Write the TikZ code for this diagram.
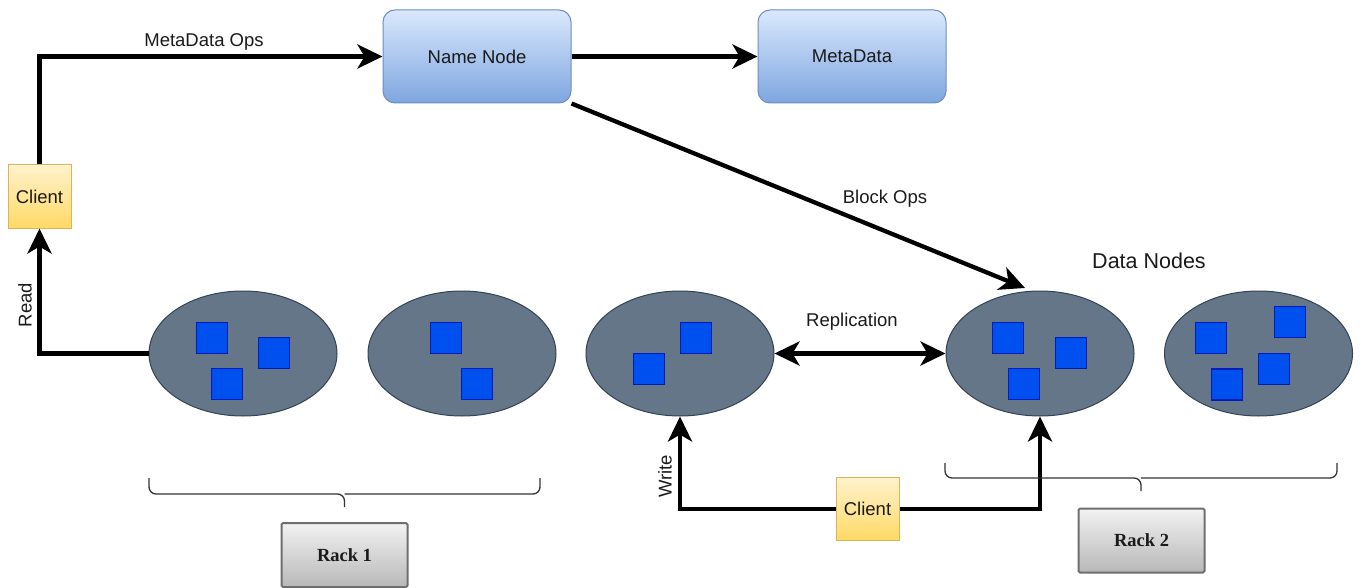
\documentclass[tikz,border=0pt]{standalone}
\usepackage{fontspec}
\setmainfont{Liberation Sans}
\newfontfamily\rackfont{Liberation Serif}
\usetikzlibrary{arrows.meta,shapes.geometric}
\definecolor{nnTop}{HTML}{DAE8FC}
\definecolor{nnBot}{HTML}{7EA6E0}
\definecolor{nnBorder}{HTML}{6C8EBF}
\definecolor{clTop}{HTML}{FFF2CC}
\definecolor{clBot}{HTML}{FFD966}
\definecolor{clBorder}{HTML}{D6B656}
\definecolor{dnFill}{HTML}{647687}
\definecolor{dnBorder}{HTML}{314354}
\definecolor{blkFill}{HTML}{0050EF}
\definecolor{blkBorder}{HTML}{001DBC}
\definecolor{rkTop}{HTML}{F2F2F2}
\definecolor{rkBot}{HTML}{B8B8B8}
\definecolor{rkBorder}{HTML}{6E6E6E}
\definecolor{txt}{HTML}{1A1A1A}
\begin{document}
\begin{tikzpicture}[x=1pt,y=-1pt,
  every node/.style={text=txt},
  nnbox/.style={draw=nnBorder, line width=1pt, rounded corners=12pt, top color=nnTop, bottom color=nnBot, minimum width=188pt, minimum height=93pt, font=\fontsize{18.5}{22}\selectfont},
  clbox/.style={draw=clBorder, line width=1pt, top color=clTop, bottom color=clBot, minimum width=63pt, minimum height=63pt, inner sep=0pt, font=\fontsize{18.5}{22}\selectfont},
  dnode/.style={ellipse, draw=dnBorder, line width=1pt, fill=dnFill, minimum width=188pt, minimum height=125pt, inner sep=0pt},
  blk/.style={draw=blkBorder, line width=1.2pt, fill=blkFill, minimum width=31pt, minimum height=31pt, inner sep=0pt},
  rack/.style={draw=rkBorder, line width=2pt, rounded corners=1.5pt, top color=rkTop, bottom color=rkBot, minimum width=126pt, minimum height=64pt, font=\rackfont\bfseries\fontsize{18.5}{22}\selectfont},
  lbl/.style={font=\fontsize{18.5}{22}\selectfont, inner sep=1pt},
  arr/.style={line width=4.3pt, -{Stealth[length=25pt,width=24pt,inset=7pt]}},
  darr/.style={line width=4.3pt, {Stealth[length=25pt,width=24pt,inset=7pt]}-{Stealth[length=25pt,width=24pt,inset=7pt]}},
  bracepath/.style={draw=black!80, line width=1.3pt, rounded corners=7pt}
]
\useasboundingbox (0,0) rectangle (1362,588);

% top boxes
\node[nnbox] (nn) at (477,56.5) {Name Node};
\node[nnbox] (md) at (852,56.5) {MetaData};

% clients
\node[clbox] (c1) at (39.5,196.5) {Client};
\node[clbox] (c2) at (867.5,509) {Client};

% data nodes
\node[dnode] (e1) at (243,353.5) {};
\node[dnode] (e2) at (462,353.5) {};
\node[dnode] (e3) at (680,353.5) {};
\node[dnode] (e4) at (1040,353.5) {};
\node[dnode] (e5) at (1258.5,353.5) {};

% blocks
\node[blk] (b11) at (212,338) {};
\node[blk] (b12) at (274,353) {};
\node[blk] (b13) at (227,384) {};
\node[blk] (b21) at (446,338) {};
\node[blk] (b22) at (477,384) {};
\node[blk] (b31) at (696,338) {};
\node[blk] (b32) at (649,369) {};
\node[blk] (b41) at (1008,338) {};
\node[blk] (b42) at (1071,353) {};
\node[blk] (b43) at (1024,384) {};
\node[blk] (b51) at (1211,338) {};
\node[blk] (b52) at (1290,322) {};
\node[blk] (b53) at (1274,369) {};
\node[blk] (b54) at (1227,384.5) {};

% connectors
\draw[arr] (c1.north) |- (nn.west);
\draw[arr] (nn.east) -- (md.west);
\coordinate (bo) at (1025,288);
\draw[arr] (nn.south east) -- (bo);
\draw[arr] (e1.west) -| (c1.south);
\draw[darr] (e3.east) -- (e4.west);
\draw[arr] (c2.west) -| (e3.south);
\draw[arr] (c2.east) -| (e4.south);

% labels
\node[lbl] (lmo) at (204,42) {MetaData Ops};
\node[lbl] (lbo) at (885,199) {Block Ops};
\node[lbl] (lrep) at (852,322) {Replication};
\node[lbl, rotate=90] (lread) at (25,305) {Read};
\node[lbl, rotate=90] (lwrite) at (665,476.5) {Write};
\node[font=\fontsize{21.5}{26}\selectfont] (ldn) at (1149,261) {Data Nodes};

% braces
\draw[bracepath] (149,478) -- (149,494) -- (344.5,494) -- (344.5,507);
\draw[bracepath] (540,478) -- (540,494) -- (344.5,494);
\draw[bracepath] (945,463) -- (945,478) -- (1141,478) -- (1141,491);
\draw[bracepath] (1337,463) -- (1337,478) -- (1141,478);

% racks
\node[rack] (r1) at (344.5,555) {Rack 1};
\node[rack] (r2) at (1141.5,540.5) {Rack 2};
\end{tikzpicture}
\end{document}
